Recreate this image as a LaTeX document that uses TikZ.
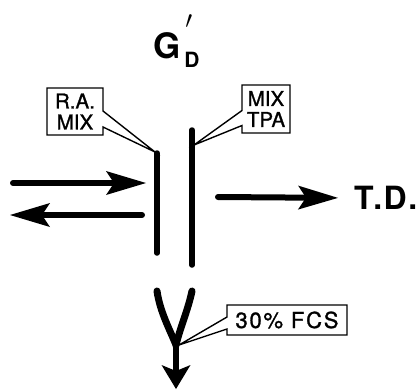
\documentclass[tikz,border=0pt]{standalone}
\usepackage{fontspec}
\setmainfont{TeX Gyre Heros}
\usetikzlibrary{arrows.meta,shapes.callouts}
\begin{document}
\begin{tikzpicture}[x=1pt,y=-1pt,
  bigarrow/.style={line width=6pt, line cap=round, -{Stealth[length=40pt,width=24pt,inset=8pt,line width=0pt]}},
  downarrow/.style={line width=6.5pt, line cap=round, -{Stealth[length=24pt,width=29pt,inset=6pt,line width=0pt]}},
  vline/.style={line width=7pt, line cap=round},
  bar/.style={line width=5.5pt, line cap=round},
  callbox/.style={rectangle callout, draw, line width=1.4pt, inner sep=0pt, align=center,
    font=\fontsize{20.5}{21}\selectfont\addfontfeatures{FakeBold=1.2}, callout pointer width=16pt},
]
\useasboundingbox (0,0) rectangle (420,389);

% title
\node[anchor=base west, inner sep=0pt] (gd) at (153,58)
  {\fontsize{35}{35}\selectfont\bfseries G\rlap{\hspace{4pt}\raisebox{-9pt}{\fontsize{21}{21}\selectfont D}}\rlap{\hspace{5pt}\raisebox{30pt}{\fontsize{26}{26}\selectfont$\prime$}}};

% bars
\coordinate (lbt) at (157,153);
\coordinate (lbb) at (157,253);
\coordinate (rbt) at (192,130);
\coordinate (rbb) at (192,265);
\draw[bar] (lbt) -- (lbb);
\draw[bar] (rbt) -- (rbb);

% callouts
\coordinate (p1) at (155,152);
\coordinate (p2) at (194,145);
\coordinate (p3) at (179,345);
\node[callbox, minimum width=56pt, minimum height=47pt, callout absolute pointer={(p1)}] (ra) at (75,111.5) {R.A.\\MIX};
\node[callbox, minimum width=48pt, minimum height=48pt, callout pointer width=15pt, callout absolute pointer={(p2)}] (tpa) at (266,109) {MIX\\TPA};
\node[callbox, minimum width=120pt, minimum height=30pt, callout pointer width=12pt,
  font=\fontsize{22}{22}\selectfont\addfontfeatures{LetterSpace=8,FakeBold=1.2}, callout absolute pointer={(p3)}] (fcs) at (287,320) {30\% FCS};

% horizontal arrows
\coordinate (a1s) at (13,183);
\coordinate (a1e) at (146,183);
\coordinate (a2s) at (142,215);
\coordinate (a2e) at (10,215);
\coordinate (a3s) at (218,197);
\draw[bigarrow] (a1s) -- (a1e);
\draw[bigarrow] (a2s) -- (a2e);

\node[anchor=west, inner sep=0pt, font=\fontsize{32}{32}\selectfont\bfseries\addfontfeatures{LetterSpace=5}] (td) at (354,198) {T.D.};
\draw[bigarrow, shorten >=16pt] (a3s) -- (td.west);

% V and down arrow
\coordinate (vl) at (157,291);
\coordinate (vr) at (192,291);
\coordinate (vm) at (176,345);
\coordinate (vtip) at (176,389);
\draw[vline] (vl) .. controls (160,312) and (170,330) .. (vm);
\draw[vline] (vr) .. controls (188,310) and (180,328) .. (vm);
\draw[downarrow] (vm) -- (vtip);
\end{tikzpicture}
\end{document}
